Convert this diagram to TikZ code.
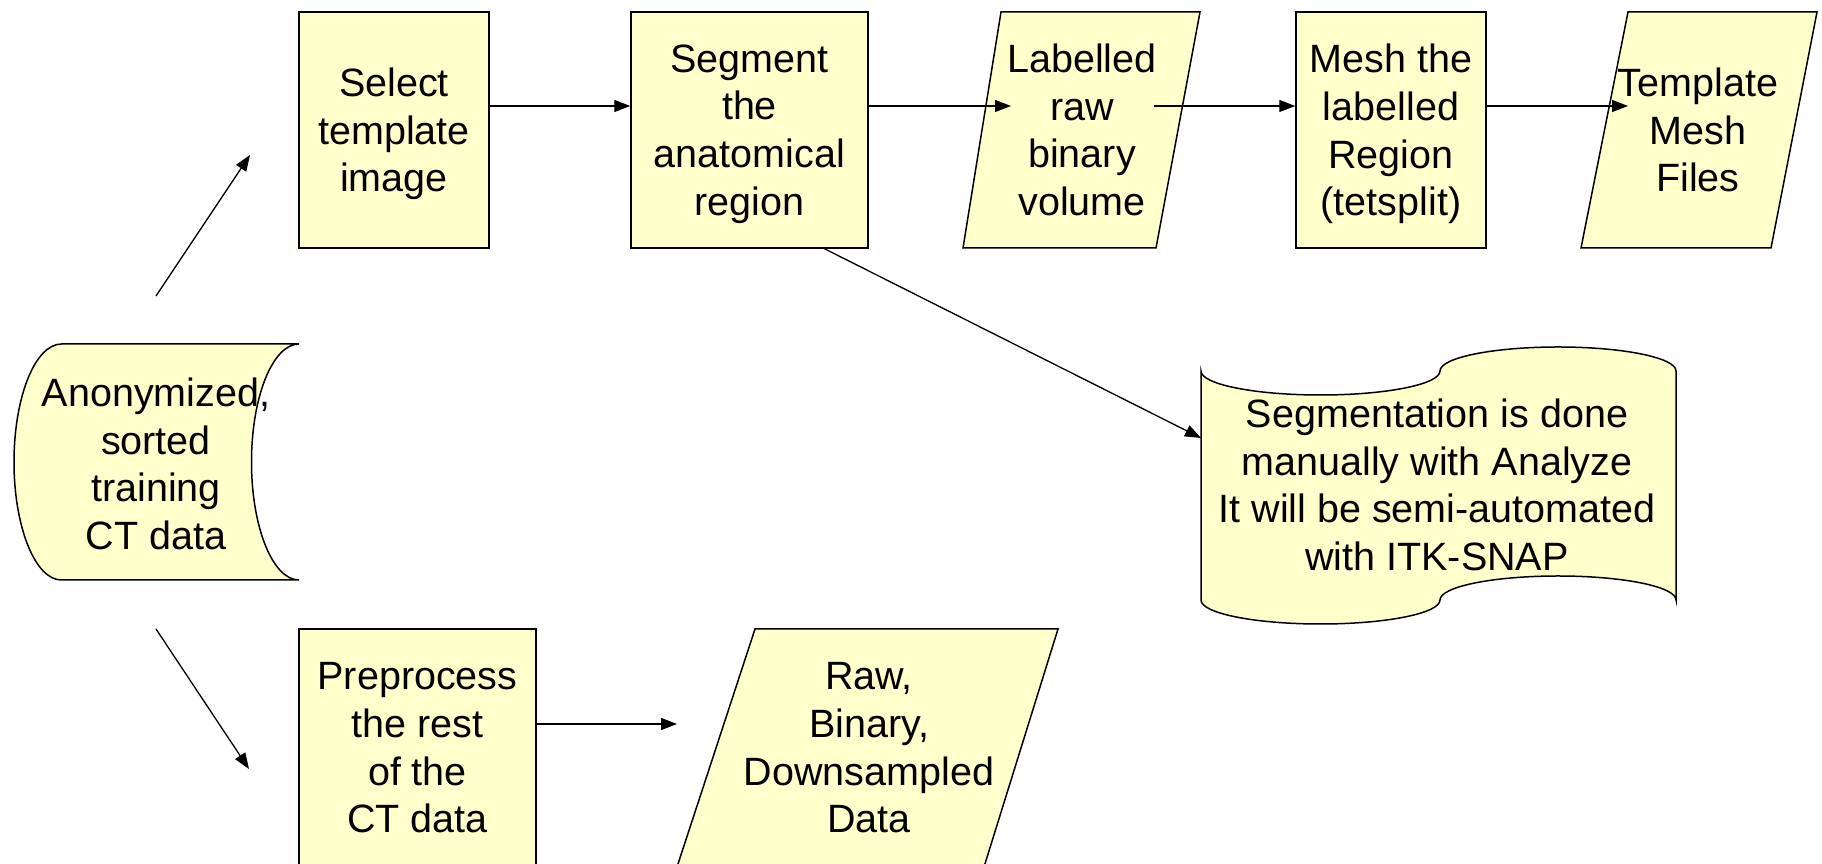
\documentclass[tikz,border=0pt]{standalone}
\usepackage{fontspec}
\setmainfont{Liberation Sans}
\usetikzlibrary{arrows.meta}
\definecolor{boxfill}{RGB}{255,255,204}
\begin{document}
\begin{tikzpicture}[x=1pt,y=1pt,
  shapebox/.style={draw=black, line width=1.5pt, fill=boxfill},
  lbl/.style={align=center, font=\fontsize{39.5}{47.6}\selectfont, inner sep=0pt},
  conn/.style={line width=1.3pt, -{Triangle[length=16pt,width=12pt]}}]
\path[use as bounding box] (0,0) rectangle (1822,864);
\clip (0,0) rectangle (1822,864);

% rectangles
\node[shapebox, minimum width=190pt, minimum height=236pt] (select) at (394,734) {};
\node[lbl] (selectT) at (394,730) {Select\\template\\image};
\node[shapebox, minimum width=237pt, minimum height=236pt] (segment) at (749.5,734) {};
\node[lbl] (segmentT) at (749.5,730) {Segment\\the\\anatomical\\region};
\node[shapebox, minimum width=190pt, minimum height=236pt] (mesh) at (1391,734) {};
\node[lbl] (meshT) at (1391,730) {Mesh the\\labelled\\Region\\(tetsplit)};
\node[shapebox, minimum width=237pt, minimum height=238pt] (prep) at (417.5,116) {};
\node[lbl] (prepT) at (417.5,116) {Preprocess\\the rest\\of the\\CT data};

% parallelograms
\draw[shapebox] (963,616) -- (1001,852) -- (1200,852) -- (1156,616) -- cycle;
\node[lbl] (labelled) at (1082,734) {Labelled\\raw\\binary\\volume};
\draw[shapebox] (1581,616) -- (1628,852) -- (1817,852) -- (1771,616) -- cycle;
\node[lbl] (tmesh) at (1698,734) {Template\\Mesh\\Files};
\draw[shapebox] (677,-3) -- (755,235) -- (1058,235) -- (984,-3) -- cycle;
\node[lbl] (raw) at (869,116) {Raw,\\Binary,\\Downsampled\\Data};

% stored data
\draw[shapebox] (299,520) -- (61.5,520) arc[start angle=90,end angle=270,x radius=47.5,y radius=118]
  -- (299,284) arc[start angle=270,end angle=90,x radius=47.5,y radius=118] -- cycle;
\node[lbl] (ct) at (156,400) {Anonymized,\\sorted\\training\\CT data};

% punched tape note
\draw[shapebox] (1201,493) arc[start angle=180,end angle=360,x radius=119.5,y radius=24]
  arc[start angle=180,end angle=0,x radius=118,y radius=24] -- (1676,264)
  arc[start angle=0,end angle=180,x radius=118,y radius=24]
  arc[start angle=0,end angle=-180,x radius=119.5,y radius=24] -- cycle;
\node[lbl] (note) at (1437,379) {Segmentation is done\\manually with Analyze\\It will be semi-automated\\with ITK-SNAP};

% connector ends
\coordinate (upstart) at (156,568);
\coordinate (uptip) at (250,709);
\coordinate (dnstart) at (156,235);
\coordinate (dntip) at (249,95);
\coordinate (labin) at (1011,758);
\coordinate (labout) at (1154,758);
\coordinate (tmin) at (1628,758);
\coordinate (segbot) at (823,616);
\coordinate (notein) at (1201,426);
\coordinate (rawin) at (677,140);

\draw[conn] (upstart) -- (uptip);
\draw[conn] (dnstart) -- (dntip);
\draw[conn] ([yshift=24pt]select.east) -- ([yshift=24pt]segment.west);
\draw[conn] ([yshift=24pt]segment.east) -- (labin);
\draw[conn] (labout) -- ([yshift=24pt]mesh.west);
\draw[conn] ([yshift=24pt]mesh.east) -- (tmin);
\draw[conn] (segbot) -- (notein);
\draw[conn] ([yshift=24pt]prep.east) -- (rawin);
\end{tikzpicture}
\end{document}
